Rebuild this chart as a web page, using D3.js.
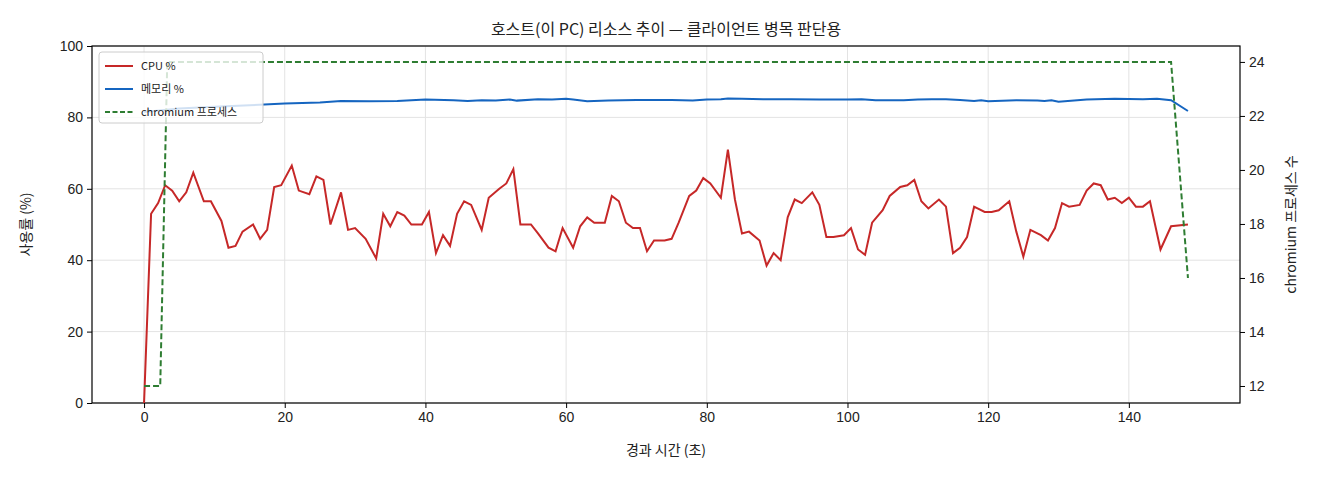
<!DOCTYPE html>
<html><head><meta charset="utf-8">
<script src="https://cdn.jsdelivr.net/npm/d3@7"></script>
<style>
body{margin:0;background:#fff;font-family:"Noto Sans CJK KR","Noto Sans",sans-serif;}
text{fill:#222;}
</style></head>
<body><svg id="chart" width="1320" height="480"></svg>
<script>
const cpuTimes = [0,1,2,3,4,5,6,7,8.5,9.5,11,12,13,14,15.5,16.5,17.5,18.5,19.5,21,22,23.5,24.5,25.5,26.5,28,29,30,31.5,33,34,35,36,37,38,39.5,40.5,41.5,42.5,43.5,44.5,45.5,46.5,48,49,50.5,51.5,52.5,53.5,55,56,57.5,58.5,59.5,61,62,63,64,65.5,66.5,67.5,68.5,69.5,70.5,71.5,72.5,74,75,76,77.5,78.5,79.5,80.5,82,83,84,85,86,87.5,88.5,89.5,90.5,91.5,92.5,93.5,95,96,97,98,99.5,100.5,101.5,102.5,103.5,105,106,107.5,108.5,109.5,110.5,111.5,113,114,115,116,117,118,119.5,120.5,121.5,123,124,125,126,127.5,128.5,129.5,130.5,131.5,133,134,135,136,137,138,139,140,141,142,143,144.5,146,148.4];
const cpuValues = [0,53,56,61,59.5,56.5,59,64.5,56.5,56.5,51,43.5,44,48,50,46,48.5,60.5,61,66.5,59.5,58.5,63.5,62.5,50,59,48.5,49,46,40.5,53,49.5,53.5,52.5,50,50,53.5,42,47,44,53,56.5,55.5,48.5,57.5,60,61.5,65.5,50,50,47.5,43.5,42.5,49,43.5,49.5,52,50.5,50.5,58,56.5,50.5,49,49,42.5,45.5,45.5,46,50.5,58,59.5,63,61.5,57.5,71,57,47.5,48,45.5,38.5,42,40,52,57,56,59,55.5,46.5,46.5,47,49,43,41.5,50.5,54,58,60.5,61,62.5,56.5,54.5,57,55,42,43.5,46.5,55,53.5,53.5,54,56.5,48,41,48.5,47,45.5,49,56,55,55.5,59.5,61.5,61,57,57.5,56,57.5,55,55,56.5,43,49.5,50];
const memTimes = [0,5,10,15,20,25,28,32,36,40,44,46,48,50,52,53,56,58,60,61,63,66,70,75,78,80,82,83,85,88,92,96,100,102,104,108,110,112,114,116,118,119,120,124,127,128,129,130,134,138,142,144,146,148.4];
const memValues = [81.5,82.5,83,83.4,83.9,84.2,84.6,84.5,84.6,85,84.8,84.6,84.8,84.7,85,84.7,85.1,85,85.2,85,84.5,84.7,84.9,84.9,84.7,85,85.1,85.3,85.2,85.1,85.1,85,85,85.1,84.8,84.8,85,85.1,85.1,84.9,84.6,84.8,84.5,84.8,84.7,84.6,84.8,84.4,85,85.2,85.1,85.2,84.8,81.8];
const procTimes = [0,2.3,3.3,146,148.4];
const procValues = [12,12,24,24,16];
const xTicks = [0,20,40,60,80,100,120,140];
const yTicks = [0,20,40,60,80,100];
const y2Ticks = [12,14,16,18,20,22,24];

const svg = d3.select("#chart");
const m = {left:92, right:1240, top:46, bottom:403};
const x = d3.scaleLinear().domain([-7.4,155.8]).range([m.left,m.right]);
const y = d3.scaleLinear().domain([0,100]).range([m.bottom,m.top]);
const y2 = d3.scaleLinear().domain([11.37,24.59]).range([m.bottom,m.top]);

// grid
svg.append("g").selectAll("line").data(xTicks).join("line")
  .attr("x1",d=>x(d)).attr("x2",d=>x(d)).attr("y1",m.top).attr("y2",m.bottom)
  .attr("stroke","#e3e3e3");
svg.append("g").selectAll("line").data(yTicks).join("line")
  .attr("x1",m.left).attr("x2",m.right).attr("y1",d=>y(d)).attr("y2",d=>y(d))
  .attr("stroke","#e3e3e3");

const axisStyle = g => { g.selectAll("text").style("font-size","14px").attr("fill","#222"); g.select(".domain").remove(); };
svg.append("g").attr("transform",`translate(0,${m.bottom})`)
  .call(d3.axisBottom(x).tickValues(xTicks).tickSize(5).tickPadding(4)).call(axisStyle);
svg.append("g").attr("transform",`translate(${m.left},0)`)
  .call(d3.axisLeft(y).tickValues(yTicks).tickSize(5).tickPadding(4)).call(axisStyle);
svg.append("g").attr("transform",`translate(${m.right},0)`)
  .call(d3.axisRight(y2).tickValues(y2Ticks).tickSize(5).tickPadding(4)).call(axisStyle);
svg.append("rect").attr("x",m.left).attr("y",m.top).attr("width",m.right-m.left).attr("height",m.bottom-m.top)
  .attr("fill","none").attr("stroke","#000").attr("stroke-width",1.2);

const line = (ys) => d3.line().x(d=>x(d[0])).y(d=>ys(d[1]));
svg.append("path").datum(d3.zip(memTimes,memValues)).attr("d",line(y))
  .attr("fill","none").attr("stroke","#1565c0").attr("stroke-width",2);
svg.append("path").datum(d3.zip(cpuTimes,cpuValues)).attr("d",line(y))
  .attr("fill","none").attr("stroke","#c62828").attr("stroke-width",2);
svg.append("path").datum(d3.zip(procTimes,procValues)).attr("d",line(y2))
  .attr("fill","none").attr("stroke","#2e7d32").attr("stroke-width",2).attr("stroke-dasharray","6,3");

// titles
svg.append("text").attr("x",(m.left+m.right)/2).attr("y",35).attr("text-anchor","middle")
  .style("font-size","16px").text("호스트(이 PC) 리소스 추이 — 클라이언트 병목 판단용");
svg.append("text").attr("x",(m.left+m.right)/2).attr("y",455).attr("text-anchor","middle")
  .style("font-size","14px").text("경과 시간 (초)");
svg.append("text").attr("transform",`translate(31,${(m.top+m.bottom)/2}) rotate(-90)`).attr("text-anchor","middle")
  .style("font-size","14px").text("사용률 (%)");
svg.append("text").attr("transform",`translate(1296,${(m.top+m.bottom)/2}) rotate(-90)`).attr("text-anchor","middle")
  .style("font-size","14px").text("chromium 프로세스 수");

// legend
const legendItems = [["CPU %","#c62828",null],["메모리 %","#1565c0",null],["chromium 프로세스","#2e7d32","5,2.5"]];
const lg = svg.append("g").attr("transform","translate(99,52)");
lg.append("rect").attr("width",164).attr("height",71).attr("rx",3)
  .attr("fill","rgba(255,255,255,0.8)").attr("stroke","#ccc");
legendItems.forEach((d,i)=>{
  const yy = 14 + i*23;
  lg.append("line").attr("x1",6).attr("x2",34).attr("y1",yy).attr("y2",yy)
    .attr("stroke",d[1]).attr("stroke-width",2).attr("stroke-dasharray",d[2]);
  lg.append("text").attr("x",42).attr("y",yy+4).style("font-size","11px").text(d[0]);
});
</script></body></html>
